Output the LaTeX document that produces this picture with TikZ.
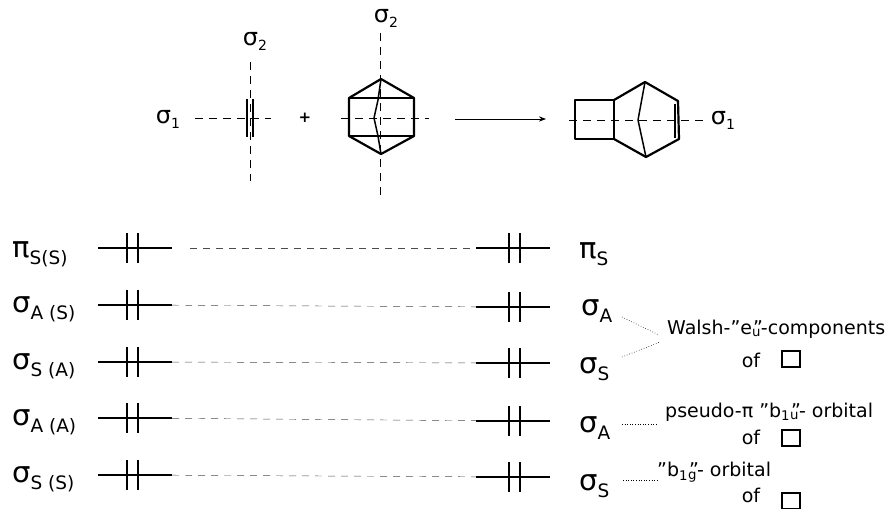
\documentclass[tikz,border=0pt]{standalone}
\usepackage{fontspec}
\setmainfont{DejaVu Sans}
\usetikzlibrary{arrows.meta,calc}
\newcommand{\orblabel}[2]{{\fontsize{29}{29}\selectfont #1}\raisebox{-7pt}{\fontsize{18.5}{18.5}\selectfont #2}}
\newcommand{\axislabel}[1]{{\fontsize{24}{24}\selectfont σ}\raisebox{-5pt}{\fontsize{14}{14}\selectfont #1}}
\newcommand{\qsub}[1]{\rlap{\kern1pt"}\textsubscript{#1}}
\tikzset{
  bond/.style={line width=2.2pt,line join=round},
  thinbond/.style={line width=1.5pt,line join=round},
  axisline/.style={dash pattern=on 8pt off 6pt,line width=0.9pt},
  corrline/.style={dash pattern=on 7pt off 6pt,line width=0.45pt,black!70},
  dotline/.style={dotted,line width=0.6pt},
  orb/.style={inner sep=0pt,anchor=base west},
  note/.style={inner sep=0pt,font=\fontsize{19}{19}\selectfont},
  levelbar/.style={inner sep=0pt,minimum width=74pt,minimum height=32pt,
    path picture={
      \draw[line width=1.8pt] (path picture bounding box.west)--(path picture bounding box.east);
      \draw[line width=1.8pt] ($(path picture bounding box.center)+(#1,-15)$)--++(0,30);
      \draw[line width=1.8pt] ($(path picture bounding box.center)+(#1+11,-15)$)--++(0,30);
    }},
  unitbox/.style={draw,line width=1.3pt,inner sep=0pt,minimum width=18pt,minimum height=16pt}
}
\begin{document}
\begin{tikzpicture}[x=1pt,y=-1pt,>=Stealth]
  \useasboundingbox (0,0) rectangle (895,509);
  % left fragment
  \node[inner sep=0pt] (s1a) at (168,119) {\axislabel{1}};
  \node[inner sep=0pt] (s2a) at (255,41) {\axislabel{2}};
  \draw[axisline] (250,62)--(250,181);
  \draw[axisline] (195,118)--(271,118);
  \draw[line width=1.6pt] (247,99)--(247,137);
  \draw[line width=1.6pt] (253,99)--(253,137);
  \node[inner sep=0pt,font=\bfseries\fontsize{15}{15}\selectfont] (plus) at (305,118) {+};
  % prismane-like fragment
  \node[inner sep=0pt] (s2b) at (386,18) {\axislabel{2}};
  \draw[axisline] (380,33)--(380,199);
  \draw[axisline] (341,118)--(429,118);
  \draw[bond] (381,79)--(414,98)--(414,136)--(381,154)--(349,136)--(349,98)--cycle;
  \draw[bond] (349,98)--(414,98) (349,136)--(414,136);
  \draw[thinbond] (381,79)--(378,100)--(374,118)--(378,136)--(381,154);
  % arrow
  \coordinate (arrowstart) at (455,119);
  \coordinate (arrowend) at (546,119);
  \draw[->,line width=0.9pt] (arrowstart)--(arrowend);
  % product
  \draw[axisline] (569,120)--(703,120);
  \draw[bond] (575,100) rectangle (614,139);
  \draw[bond] (614,100)--(645,82)--(678,101)--(679,139)--(646,157)--(614,139);
  \draw[thinbond] (645,82)--(638,120)--(646,157);
  \draw[thinbond] (675,104)--(675,138);
  \node[inner sep=0pt] (s1c) at (723,120) {\axislabel{1}};
  % levels left
  \node[levelbar=-8] (l1) at (135,248) {};
  \node[levelbar=-8] (l2) at (135,305) {};
  \node[levelbar=-8] (l3) at (135,362) {};
  \node[levelbar=-8] (l4) at (135,418) {};
  \node[levelbar=-8] (l5) at (135,475) {};
  % levels right
  \node[levelbar=-4] (r1) at (513,248) {};
  \node[levelbar=-4] (r2) at (513,307) {};
  \node[levelbar=-4] (r3) at (513,363) {};
  \node[levelbar=-4] (r4) at (513,421) {};
  \node[levelbar=-4] (r5) at (513,477) {};
  % correlation lines
  \draw[corrline,shorten <=18pt] (l1)--(r1);
  \draw[corrline] (l2)--(r2);
  \draw[corrline] (l3)--(r3);
  \draw[corrline] (l4)--(r4);
  \draw[corrline] (l5)--(r5);
  % left labels
  \node[orb] (la) at (12,257) {\orblabel{π}{S(S)}};
  \node[orb] (lb) at (12,312) {\orblabel{σ}{A (S)}};
  \node[orb] (lc) at (12,369) {\orblabel{σ}{S (A)}};
  \node[orb] (ld) at (12,425) {\orblabel{σ}{A (A)}};
  \node[orb] (le) at (12,482) {\orblabel{σ}{S (S)}};
  % right labels
  \node[orb] (ra) at (579,258) {\orblabel{π}{S}};
  \node[orb] (rb) at (581,315) {\orblabel{σ}{A}};
  \node[orb] (rc) at (579,373) {\orblabel{σ}{S}};
  \node[orb] (rd) at (579,432) {\orblabel{σ}{A}};
  \node[orb] (re) at (579,490) {\orblabel{σ}{S}};
  % notes
  \node[note,anchor=west] (walsh) at (667,329) {Walsh-"e\qsub{u}-components};
  \node[note] (of1) at (751,360) {of};
  \node[unitbox] (box1) at (791,359) {};
  \node[note,anchor=west] (pseudo) at (665,412) {pseudo-π "b\textsubscript{1}\qsub{u}- orbital};
  \node[note] (of2) at (751,437) {of};
  \node[unitbox] (box2) at (791,438) {};
  \node[note,anchor=west] (bg) at (657,472) {"b\textsubscript{1}\qsub{g}- orbital};
  \node[note] (of3) at (751,495) {of};
  \node[unitbox] (box3) at (791,501) {};
  % dotted links
  \coordinate (wa) at (622,317);
  \coordinate (wb) at (622,357);
  \coordinate (wc) at (659,335);
  \coordinate (wd) at (660,342);
  \draw[dotline] (wa)--(wc);
  \draw[dotline] (wb)--(wd);
  \coordinate (pa) at (622,424);
  \draw[dotline,shorten >=8pt] (pa)--(pa-|pseudo.west);
  \coordinate (ba) at (623,480);
  \draw[dotline] (ba)--(ba-|bg.west);
\end{tikzpicture}
\end{document}
